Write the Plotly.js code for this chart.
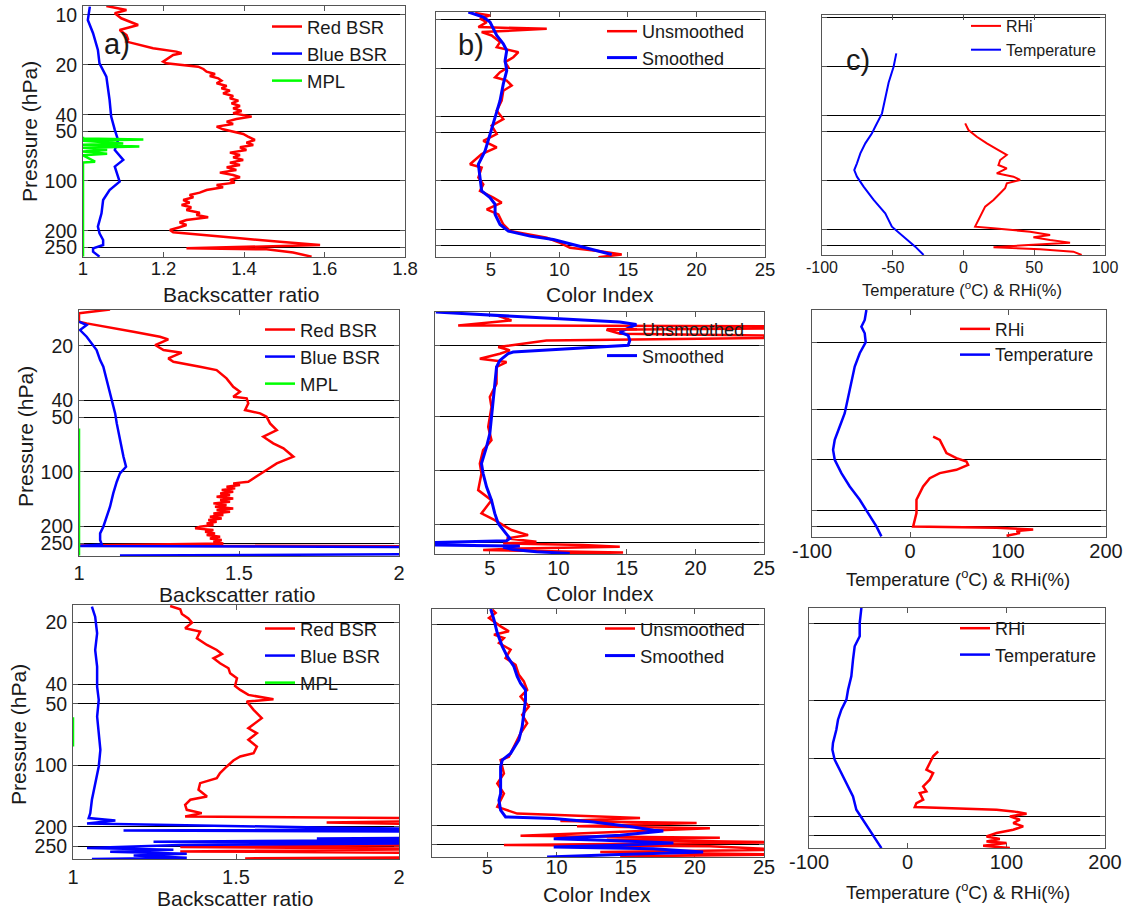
<!DOCTYPE html>
<html>
<head>
<meta charset="utf-8">
<script src="https://cdn.plot.ly/plotly-3.0.1.min.js"></script>
<style>html,body{margin:0;padding:0;background:#fff;}#chart{width:1126px;height:911px;}</style>
</head>
<body>
<div id="chart"></div>
<script>
// ---------------- DATA (pressure in hPa) ----------------
// Row 1 -- a) backscatter ratio
const a1RedP = [8.83,9.33,9.77,10.47,11.49,12.31,13.2,14.02,14.47,15.51,15.88,16.63,17.02,17.42,18.24,19.1,19.56,
  20.48,21.15,21.95,22.67,23.31,24.07,24.86,25.80,26.77,27.65,28.56,29.64,30.76,31.77,32.82,34.05,35.34,36.50,37.87,39.12,
  40.96,42.31,43.91,45.35,47.06,48.84,50.45,52.11,54.07,56.62,58.76,60.69,62.69,65.06,67.5,69.73,72.02,74.7,77.54,80.08,
  82.72,85.83,89.07,92.02,95.04,98.62,102.33,105.7,109.2,113.3,117.6,121.4,125.4,130.2,135.1,139.5,144.1,149.5,155.2,160.3,
  165.6,171.8,177.4,184.1,190.1,197.3,203.8,211.5,
  221.5,232,243,254.5,258,270,285.6];
const a1RedV = [1.058,1.108,1.079,1.095,1.137,1.091,1.108,1.112,1.108,1.158,1.174,1.232,1.245,1.224,1.211,1.199,1.207,
  1.286,1.299,1.307,1.328,1.315,1.336,1.344,1.332,1.357,1.344,1.365,1.348,1.373,1.365,1.386,1.369,1.39,1.373,1.394,1.373,
  1.419,1.381,1.357,1.373,1.332,1.348,1.373,1.398,1.41,1.427,1.406,1.423,1.39,1.406,1.365,1.39,1.373,1.398,1.365,1.39,
  1.357,1.381,1.34,1.373,1.39,1.365,1.377,1.332,1.348,1.307,1.29,1.265,1.274,1.249,1.265,1.245,1.269,1.257,1.29,1.282,
  1.311,1.257,1.24,1.257,1.24,1.216,1.224,1.29,
  1.39,1.489,1.589,1.257,1.456,1.522,1.568];
const a1BlueP = [8.91,10.72,12.89,16.25,19.56,23.52,32.5,40.96,49.28,56.62,65.06,74.7,81.98,100.9,113.3,130.2,156.6,188.4,206.7,226.7,243,254.5,266.5,285.6];
const a1BlueV = [1.017,1.012,1.025,1.037,1.041,1.058,1.066,1.07,1.079,1.087,1.079,1.1,1.079,1.091,1.066,1.05,1.046,1.037,1.041,1.05,1.05,1.025,1.025,1.041];
const a1MplP = [54.1,55.5,56.2,57.2,59.5,60.5,62.1,63,65,66.5,68.5,70,76.5,77.5,285];
const a1MplV = [1,1,1.15,1.0,1.10,1.0,1.14,1.0,1.06,1.0,1.06,1.0,1.03,1.0,1.0];
// Row 1 -- b) color index
const b1UnP = [9.09,9.4,9.86,10.34,11.11,11.38,11.93,12.52,13.77,14.8,15.9,17.08,18.35,19.71,21.17,22.75,23.86,25.63,27.54,31.78,36.67,41.33,45.47,51.24,56.36,62.01,68.23,78.77,82.6,95.35,104.9,115.4,127,136.4,150.1,161.3,186.2,204.8,225.3,242.1,260,272.8,286.1,297.2];
const b1UnV = [3.85,4.94,4.21,4.7,4.09,9.08,4.33,5.06,5.67,5.43,7.01,6.64,6.04,6.28,5.67,5.31,6.16,6.52,5.91,5.79,5.43,5.91,5.06,5.43,4.45,5.43,4.33,3.48,4.33,4.09,4.45,4.21,5.18,5.79,4.7,5.55,5.91,6.4,9.08,10.05,10.78,12.97,14.55,12.85];
const b1SmP = [8.96,9.62,10.34,11.38,12.52,14.11,15.52,17.91,20.67,25.02,31.78,40.35,51.24,65.06,78.77,95.35,115.4,127,139.7,161.3,186.2,204.8,220,230.7,247.9,266.3,286.1];
const b1SmV = [3.36,4.45,4.94,5.18,5.43,5.91,6.16,6.04,6.16,5.91,5.67,5.31,4.94,4.58,4.09,4.21,4.33,4.94,5.31,5.31,5.67,6.28,7.86,9.56,11.02,12.48,13.82];
// Row 1 -- c) RHi and temperature
const c1RhiP = [44.6,49,53.9,59.2,65.1,69.8,75,80.5,84.3,90.5,94.9,99.5,104.3,111.9,120.1,132,145.1,159.5,175.2,192.6,197.2,206.8,216.7,224,232.6,241.5,249.7,258,265.5,274.4,287.6];
const c1RhiV = [1.2,3.5,9.4,16.5,24.7,30.6,25.9,24.7,30.6,23.5,35.3,40,30.6,29.4,25.9,21.2,15.3,12.9,10.6,8.2,21.2,47.1,61.2,49.4,61.2,75.3,45.9,21.2,54.1,77.6,83.5];
const c1TempP = [16.55,20,25.03,32.06,38.7,46.77,51.38,59.2,68.2,78.6,86.4,94.9,109.3,132,159.5,192.6,221.9,255.6,287.6];
const c1TempV = [-47.5,-49.4,-52.9,-55.3,-57.6,-62.4,-64.7,-69.4,-72.9,-75.3,-77.2,-75.3,-70.6,-63.5,-55.3,-50.6,-42.4,-34.1,-28.2];

// Row 2 -- a)
const a2RedP = [12.58,13.23,14.72,15.04,16.73,17.83,18.45,19.83,21.13,21.87,23.5,24.53,26.15,27.29,30.35,33.76,35.98,38.35,39.18,41.76,45.47,47.45,49.52,53.92,58.71,63.92,69.6,74.2,82.5,89.85,97.8,106.5,113.6,
  115.97,118.5,121.0,123.6,126.3,129.0,131.8,134.6,137.5,140.5,143.5,146.6,149.7,152.9,156.2,159.6,163.1,166.6,170.2,173.8,
  177.5,181.4,185.3,189.2,193.3,197.5,201.7,206.0,210.5,215.0,219.6,224.3,229.2,234.1,239.1,244.3,249.5,
  256.0,259.4];
const a2RedV = [1.097,1.0,1.0,1.024,1.17,1.253,1.279,1.238,1.264,1.321,1.279,1.295,1.378,1.43,1.461,1.482,1.503,1.482,1.524,1.529,1.519,1.566,1.586,1.597,1.618,1.576,1.607,1.639,1.67,1.618,1.586,1.555,1.529,
  1.482,1.503,1.461,1.488,1.446,1.482,1.441,1.472,1.43,1.482,1.441,1.472,1.42,1.461,1.425,1.482,1.43,1.472,1.42,1.451,
  1.409,1.446,1.404,1.43,1.399,1.42,1.378,1.363,1.42,1.394,1.425,1.399,1.441,1.409,1.446,1.42,1.451,
  1.003,2.2];
const a2BlueP = [14.72,15.36,16.37,17.83,21.13,24.02,26.15,31.0,36.75,47.45,53.92,66.7,82.5,93.75,102.1,113.6,131.8,156.2,177.5,201.7,219.6,239.1,252.8,258.2,261.6,286.1,290.9];
const a2BlueV = [1.0,1.024,1.003,1.024,1.055,1.066,1.076,1.086,1.097,1.113,1.118,1.128,1.139,1.147,1.128,1.118,1.107,1.097,1.086,1.076,1.066,1.066,1.071,1.003,2.2,2.2,1.128];
const a2MplP = [57.5,290.9];
const a2MplV = [1.0,1.0];
// Row 2 -- b)
const b2UnP = [13.61,14.52,15.48,15.67,16.08,16.36,17.22,17.67,18.13,18.76,20.43,21.32,22.25,23.73,24.76,26.4,32.69,38.78,44.08,56.95,67.57,76.8,91.1,103.6,128.2,145.8,172.9,188.4,214.1,228.3,238.3,248.6,254.1,259.5,265.1,270.8,276.7,285.1,291.3];
const b2UnV = [5.49,6.58,2.69,26.6,26.6,13.5,14.5,26.6,26.6,9.13,5.61,6.46,5.73,4.27,6.22,5.49,5.49,5.0,5.12,4.88,5.12,4.51,4.27,4.39,4.15,5.12,4.39,5.36,6.58,7.79,6.22,8.4,5.97,11.8,14.48,7.19,4.51,14.72,9.62];
const b2SmP = [13.05,14.83,15.28,16.86,17.59,18.76,20.0,21.78,22.25,24.24,26.4,32.69,40.46,50.11,62.05,73.6,91.1,103.6,122.9,145.8,172.9,196.6,223.5,238.3,245.5,250.8,259.5,262.9,267.4,274.4,282.7,288.8];
const b2SmV = [1.06,14.48,15.69,14.48,15.09,15.21,15.09,6.7,6.34,5.73,5.49,5.36,5.24,5.12,5.0,4.76,4.39,4.51,4.76,5.12,5.36,5.61,6.22,6.46,6.22,1.06,1.06,7.19,5.97,6.7,8.4,10.83];
// Row 2 -- c)
const c2RhiP = [72.7,76.06,83.3,91.3,97.7,102.3,107.1,114.7,120,128.5,144,157.8,172.8,207.4,227.2,248.9,253.5,257,259.4,265.4,272.7,282.8];
const c2RhiV = [23.6,30.4,33.8,37.2,47.4,57.6,59.3,47.4,30.4,20.2,13.4,10.0,6.6,6.6,4.9,3.2,88.3,112.1,125.7,108.7,112.1,98.5];
const c2TempP = [12.85,14.73,16.14,17.68,20.0,23.24,27.9,35.04,44.02,52.82,63.39,76.06,87.23,100,120,144,172.8,207.4,248.9,285.4];
const c2TempV = [-44.5,-46.2,-49.6,-46.2,-45.2,-51.3,-56.4,-59.8,-63.2,-66.6,-71.7,-76.8,-78.5,-76.8,-70.0,-61.5,-51.3,-42.8,-34.3,-29.2];

// Row 3 -- a)
const a3RedP = [16.57,17.21,18.14,19.05,20.0,21.31,22.13,23.86,25.72,27.22,28.47,29.9,31.62,33.46,35.4,37.45,40.83,42.71,45.19,46.92,47.45,48.71,53.5,58.77,62.65,65.79,69.6,75.0,80.9,87.2,90.5,94.7,101.3,109.2,115.6,122.3,131.8,142.1,147.5,156.1,165.2,171.5,178.0,181.9,186.2,190.5,196.3,245,251.5,257.2,264.1,269.2,281.5,285.8,288];
const a3RedV = [1.298,1.329,1.334,1.354,1.365,1.344,1.39,1.38,1.411,1.441,1.457,1.431,1.451,1.477,1.482,1.503,1.497,1.513,1.538,1.594,1.615,1.533,1.554,1.579,1.554,1.538,1.564,1.538,1.564,1.554,1.513,1.492,1.472,1.451,1.441,1.39,1.385,1.411,1.36,1.344,1.349,1.395,1.344,2.2,2.2,1.778,2.2,2.2,1.329,2.2,1.329,2.2,2.2,1.528,2.2];
const a3BlueP = [16.7,18.69,22.55,27.22,32.84,41.13,47.81,57.68,69.6,84.0,101.3,122.3,147.5,171.5,181.4,186.2,192.6,202.3,205.3,208.4,211.6,225.6,228.2,231.6,236.9,240.4,245.9,254.3,259.2,265.1,271.1,276.3,283.6,288];
const a3BlueV = [1.058,1.068,1.074,1.068,1.074,1.074,1.079,1.074,1.079,1.084,1.079,1.068,1.058,1.053,1.048,1.13,1.043,1.799,2.2,1.155,2.2,2.2,1.748,2.2,1.247,2.2,1.329,1.043,1.308,1.114,1.349,1.186,1.349,1.058];
const a3MplP = [58.1,80.9];
const a3MplV = [1.0,1.0];
// Row 3 -- b)
const b3UnP = [16.83,17.48,18.52,20.39,21.59,22.44,23.32,24.7,26.67,29.36,31.7,35.56,38.39,42.27,45.62,51.2,56.36,62.04,69.62,81.18,91.06,94.6,110.3,123.8,138.9,150,161.9,174.8,183.8,190.3,194.7,202.3,207,225.3,230.6,236,243.2,250.8,254.7,264.7,271.9,279.3,285.8];
const b3UnV = [5.36,5.6,5.12,5.96,6.56,5.48,6.2,5.84,6.68,6.32,7.04,7.28,7.64,7.88,7.4,8.0,7.52,7.88,7.4,6.92,6.56,5.96,6.2,5.72,6.2,5.96,5.72,7.16,16.04,10.28,20.13,11.48,21.09,7.4,21.81,13.64,26.6,6.2,21.09,26.6,13.16,26.6,14.6];
const b3SmP = [16.7,18.88,22.01,25.66,28.8,32.31,36.25,39.14,42.27,47.42,55.3,64.48,75.16,87.63,94.6,102.2,119.1,138.9,150,168.3,181.7,185.2,192.4,203.8,211.8,213.4,224.4,233.2,237.7,245.1,251.8,256.7,261.7,271.9,279.3,288];
const b3SmV = [5.24,5.48,5.72,6.08,6.44,6.92,7.16,7.4,7.76,7.76,7.64,7.52,7.28,6.68,6.08,5.96,5.96,5.96,5.84,5.96,6.32,9.8,12.68,15.56,17.0,17.72,14.6,9.8,13.4,18.45,14.6,9.8,17.0,20.6,14.6,9.32];
// Row 3 -- c)
const c3RhiP = [91.96,97.6,105.7,114.5,119.2,129.0,134.3,139.8,148.3,151.3,163.9,170.6,178.9,181.0,184.7,188.4,193.7,200,208.1,216.6,225.4,234.6,244.1,254,262.3,269.7,275.1,284,292.1];
const c3RhiV = [30.9,25.8,22.4,19.0,25.8,22.4,19.0,15.7,19.0,12.3,15.7,8.9,7.2,39.3,90.1,107.0,120.5,103.6,113.7,107.0,117.1,107.0,90.1,79.9,93.4,79.9,100.2,76.5,103.6];
const c3TempP = [16.58,19.84,23.26,26.22,30.75,37.53,44.02,49.6,55.9,63.0,71.0,83.25,90.2,101.6,114.5,134.3,157.5,184.7,208.1,234.6,264.3,292.1];
const c3TempV = [-46.9,-48.6,-48.6,-53.7,-55.4,-57.1,-60.4,-62.1,-67.2,-70.6,-72.3,-75.7,-76.3,-74.0,-68.9,-62.1,-55.4,-52.0,-45.2,-38.5,-31.7,-26.6];

// Tick values / labels
const pTicksA = [10,20,40,50,100,200,250];
const pTicksB = [20,50,100,200,250];
const bsrTicks1 = [1,1.2,1.4,1.6,1.8];
const bsrTicks2 = [1,1.5,2];
const ciTicks = [5,10,15,20,25];
const tTicks1 = [-100,-50,0,50,100];
const tTicks2 = [-100,0,100,200];

// ---------------- LAYOUT ----------------
const W = 1126, H = 911;
const FONT = 'Liberation Sans, Arial, sans-serif';
const TXT = '#1a1a1a';
const RED = '#ff0000', BLUE = '#0000ff', GREEN = '#00ff00';

// [left, right, top, bottom] in px ; x range ; log y range (reversed)
const panels = [
  {box:[83,405,6,257],   xr:[1,1.8],   yr:[2.458,0.946], xt:bsrTicks1, yt:pTicksA, ylab:true,  fs:18.5, so:-5},
  {box:[436,765,12,257], xr:[1,25],    yr:[2.472,0.952], xt:ciTicks,   yt:pTicksA, ylab:false, fs:18.5, so:-4},
  {box:[822,1105,15,255],xr:[-100,100],yr:[2.459,0.983], xt:tTicks1,   yt:pTicksA, ylab:false, fs:16,   so:-2},
  {box:[79,399,310,556], xr:[1,2],     yr:[2.467,1.103], xt:bsrTicks2, yt:pTicksA, ylab:true,  fs:20,   so:-1},
  {box:[435,764,312,554],xr:[1,25],    yr:[2.464,1.115], xt:ciTicks,   yt:pTicksB, ylab:false, fs:20,   so:-4},
  {box:[812,1106,310,537],xr:[-100,200],yr:[2.459,1.109],xt:tTicks2,   yt:pTicksB, ylab:false, fs:20,   so:-4},
  {box:[73,399,605,859], xr:[1,2],     yr:[2.459,1.2145],xt:bsrTicks2, yt:pTicksA, ylab:true,  fs:20,   so:0},
  {box:[432,764,609,857],xr:[1,25],    yr:[2.459,1.223], xt:ciTicks,   yt:pTicksB, ylab:false, fs:20,   so:-8},
  {box:[809,1105,608,848],xr:[-100,200],yr:[2.465,1.22], xt:tTicks2,   yt:pTicksB, ylab:false, fs:20,   so:-4}
];

const layout = {
  width: W, height: H,
  margin: {l:0, r:0, t:0, b:0},
  paper_bgcolor: '#fff', plot_bgcolor: '#fff',
  font: {family: FONT, color: TXT},
  showlegend: true,
  annotations: []
};

panels.forEach((p, i) => {
  const n = i === 0 ? '' : String(i + 1);
  const [l, r, t, b] = p.box;
  layout['xaxis' + n] = {
    domain: [l / W, r / W], range: p.xr, anchor: 'y' + n,
    tickmode: 'array', tickvals: p.xt, ticktext: p.xt.map(String),
    ticks: 'inside', ticklen: 5, tickcolor: '#555', showline: true, linecolor: '#555', linewidth: 1,
    mirror: 'ticks', showgrid: false, zeroline: false, layer: 'below traces',
    tickfont: {size: p.fs, family: FONT, color: TXT}, ticklabelstandoff: p.so, fixedrange: true
  };
  layout['yaxis' + n] = {
    domain: [1 - b / H, 1 - t / H], type: 'log', range: p.yr, anchor: 'x' + n,
    tickmode: 'array', tickvals: p.yt, ticktext: p.yt.map(String), showticklabels: p.ylab,
    ticks: 'inside', ticklen: 5, tickcolor: '#555', showline: true, linecolor: '#555', linewidth: 1,
    mirror: 'ticks', showgrid: true, gridcolor: '#000', gridwidth: 1, zeroline: false, layer: 'below traces',
    tickfont: {size: 19.5, family: FONT, color: TXT}, ticklabelstandoff: 1, fixedrange: true
  };
});

function line(x, y, name, color, width, idx, legendName) {
  const n = idx === 0 ? '' : String(idx + 1);
  return {x: x, y: y, name: name, type: 'scatter', mode: 'lines',
          line: {color: color, width: width}, xaxis: 'x' + n, yaxis: 'y' + n,
          legend: legendName, showlegend: true, hoverinfo: 'skip'};
}

const data = [
  line(a1RedV, a1RedP, 'Red BSR', RED, 2.5, 0, 'legend'),
  line(a1BlueV, a1BlueP, 'Blue BSR', BLUE, 2.5, 0, 'legend'),
  line(a1MplV, a1MplP, 'MPL', GREEN, 2.5, 0, 'legend'),
  line(b1UnV, b1UnP, 'Unsmoothed', RED, 2.5, 1, 'legend2'),
  line(b1SmV, b1SmP, 'Smoothed', BLUE, 3, 1, 'legend2'),
  line(c1RhiV, c1RhiP, 'RHi', RED, 2, 2, 'legend3'),
  line(c1TempV, c1TempP, 'Temperature', BLUE, 2, 2, 'legend3'),

  line(a2RedV, a2RedP, 'Red BSR', RED, 2.5, 3, 'legend4'),
  line(a2BlueV, a2BlueP, 'Blue BSR', BLUE, 2.5, 3, 'legend4'),
  line(a2MplV, a2MplP, 'MPL', GREEN, 2.5, 3, 'legend4'),
  line(b2UnV, b2UnP, 'Unsmoothed', RED, 2.5, 4, 'legend5'),
  line(b2SmV, b2SmP, 'Smoothed', BLUE, 3, 4, 'legend5'),
  line(c2RhiV, c2RhiP, 'RHi', RED, 2.5, 5, 'legend6'),
  line(c2TempV, c2TempP, 'Temperature', BLUE, 2.5, 5, 'legend6'),

  line(a3RedV, a3RedP, 'Red BSR', RED, 2.5, 6, 'legend7'),
  line(a3BlueV, a3BlueP, 'Blue BSR', BLUE, 2.5, 6, 'legend7'),
  line(a3MplV, a3MplP, 'MPL', GREEN, 2.5, 6, 'legend7'),
  line(b3UnV, b3UnP, 'Unsmoothed', RED, 2.5, 7, 'legend8'),
  line(b3SmV, b3SmP, 'Smoothed', BLUE, 3, 7, 'legend8'),
  line(c3RhiV, c3RhiP, 'RHi', RED, 2.5, 8, 'legend9'),
  line(c3TempV, c3TempP, 'Temperature', BLUE, 2.5, 8, 'legend9')
];

// legends: [key, left px, top px, font size]
const legends = [
  ['legend', 267, 8, 18.5], ['legend2', 602, 13, 18], ['legend3', 966, 9, 16],
  ['legend4', 260, 311, 18.5], ['legend5', 602, 311, 18], ['legend6', 955, 311, 17.5],
  ['legend7', 260, 610, 18.5], ['legend8', 600, 610, 18.5], ['legend9', 955, 610, 18]
];
legends.forEach(([k, x, y, fs]) => {
  layout[k] = {x: x / W, y: 1 - y / H, xanchor: 'left', yanchor: 'top', xref: 'paper', yref: 'paper',
               bgcolor: 'rgba(0,0,0,0)', borderwidth: 0, font: {size: fs, family: FONT, color: TXT},
               tracegroupgap: 0, itemwidth: 30, orientation: 'v'};
});

function ann(text, x, y, size, angle) {
  layout.annotations.push({text: text, x: x / W, y: 1 - y / H, xref: 'paper', yref: 'paper',
    showarrow: false, xanchor: 'center', yanchor: 'middle', textangle: angle || 0,
    font: {size: size, family: FONT, color: TXT}});
}
// axis titles
ann('Backscatter ratio', 241, 294, 21);
ann('Color Index', 600, 294, 21);
ann('Temperature (<sup>o</sup>C) & RHi(%)', 962, 289, 16.5);
ann('Backscatter ratio', 237, 594, 21);
ann('Color Index', 600, 593, 21);
ann('Temperature (<sup>o</sup>C) & RHi(%)', 958, 578, 18.5);
ann('Backscatter ratio', 235, 898, 21);
ann('Color Index', 597, 894, 21);
ann('Temperature (<sup>o</sup>C) & RHi(%)', 958, 891, 18.5);
ann('Pressure (hPa)', 29, 132, 21, -90);
ann('Pressure (hPa)', 25, 437, 21, -90);
ann('Pressure (hPa)', 18, 735, 21, -90);
// panel letters
ann('a)', 117, 44, 29);
ann('b)', 471, 45, 29);
ann('c)', 858, 60, 29);

Plotly.newPlot('chart', data, layout, {displayModeBar: false, staticPlot: true});
</script>
</body>
</html>
